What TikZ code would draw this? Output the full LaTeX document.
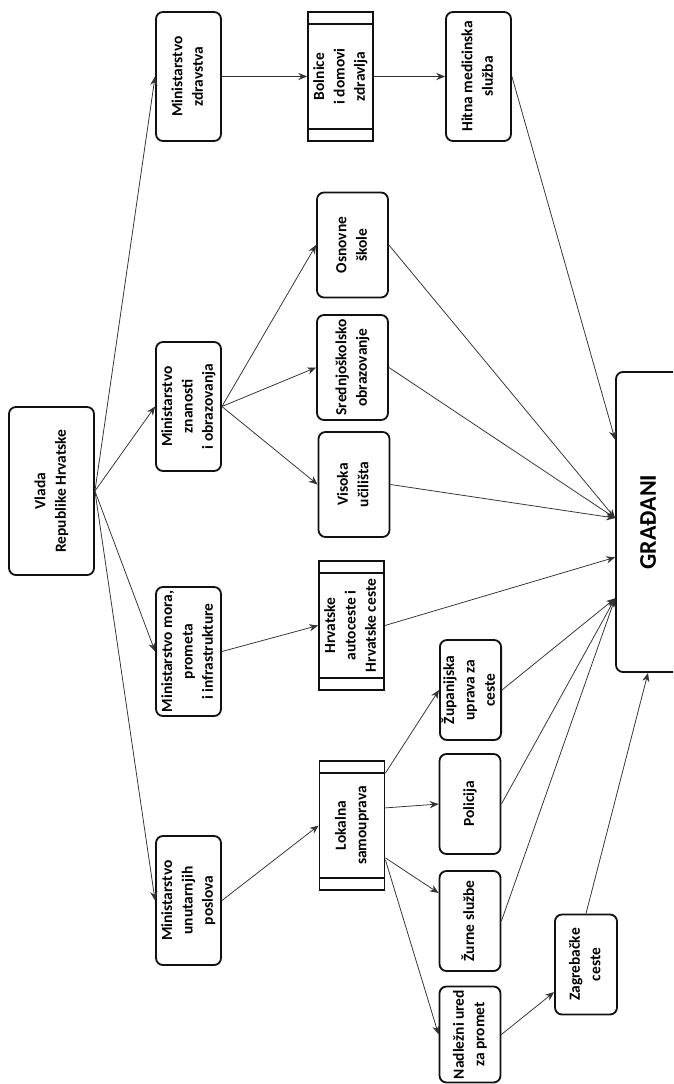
\documentclass[tikz,border=0pt]{standalone}
\usepackage{fontspec}
\setmainfont{Carlito}
\usepackage{graphicx}
\usetikzlibrary{arrows.meta,calc}
\definecolor{ink}{HTML}{111111}
\definecolor{wire}{HTML}{333333}
\newcommand{\rt}[1]{\rotatebox{90}{\begin{tabular}{@{}c@{}}#1\end{tabular}}}

\begin{document}
\begin{tikzpicture}[x=0.025cm,y=-0.025cm,font=\bfseries\fontsize{11}{14.5}\selectfont,
  box/.style={draw=ink,line width=1.3pt,rounded corners=5pt,inner sep=0pt,minimum width=1.625cm,minimum height=3.225cm},
  unit/.style={box,minimum width=1.775cm,minimum height=2.625cm},
  small/.style={box,minimum width=1.525cm,minimum height=2.5cm},
  proc/.style={box,sharp corners,path picture={
    \draw[ink,line width=1.3pt]
      ([yshift=-0.31cm]path picture bounding box.north west) -- ([yshift=-0.31cm]path picture bounding box.north east)
      ([yshift=0.31cm]path picture bounding box.south west) -- ([yshift=0.31cm]path picture bounding box.south east);}},
  arr/.style={-{Stealth[length=2.2mm,width=1.8mm]},line width=0.55pt,draw=wire}]
  \useasboundingbox (0,0) rectangle (673,1084);
  \clip (0,0) rectangle (673,1084);
  % government and ministries
  \node[box,minimum width=2.125cm,minimum height=4.2cm] (vlada) at (51.5,491) {\rt{Vlada\\Republike Hrvatske}};
  \node[box] (mzd) at (188.5,76.5) {\rt{Ministarstvo\\zdravstva}};
  \node[box] (mzo) at (188.5,406.5) {\rt{Ministarstvo\\znanosti\\i obrazovanja}};
  \node[box] (mmo) at (188.5,651.5) {\rt{Ministarstvo mora,\\prometa\\i infrastrukture}};
  \node[box] (mun) at (188.5,900.5) {\rt{Ministarstvo\\unutarnjih\\poslova}};
  % institutions
  \node[proc] (bol) at (340.5,76.5) {\rt{Bolnice\\i domovi\\zdravlja}};
  \node[box] (hit) at (478.5,76.5) {\rt{Hitna medicinska\\služba}};
  \node[unit] (os) at (352.5,245) {\rt{Osnovne\\škole}};
  \node[unit] (sr) at (352.5,367.5) {\rt{Srednjoškolsko\\obrazovanje}};
  \node[unit] (vis) at (354,484.5) {\rt{Visoka\\učilišta}};
  \node[proc] (hac) at (351.5,625.5) {\rt{Hrvatske\\autoceste i\\Hrvatske ceste}};
  \node[proc] (lok) at (352,825.5) {\rt{Lokalna\\samouprava}};
  \node[small] (zup) at (470.5,690) {\rt{Županijska\\uprava za\\ceste}};
  \node[small] (pol) at (470,804) {\rt{Policija}};
  \node[small] (zur) at (470,921) {\rt{Žurne službe}};
  \node[small,minimum height=2.4cm] (nad) at (470,1034.5) {\rt{Nadležni ured\\za promet}};
  \node[small,minimum width=1.55cm] (zag) at (586,964.5) {\rt{Zagrebačke\\ceste}};
  \node[box,minimum width=1.6cm,minimum height=7.5cm,font=\bfseries\fontsize{17}{20}\selectfont] (gra) at (648,522) {\rotatebox{90}{GRAĐANI}};
  % entry points on the citizens box
  \coordinate (g1) at ($(gra.north west)!0.227!(gra.south west)$);
  \coordinate (g2) at ($(gra.north west)!0.487!(gra.south west)$);
  \coordinate (g3) at ($(gra.north west)!0.617!(gra.south west)$);
  \coordinate (g4) at ($(gra.north west)!0.753!(gra.south west)$);
  \foreach \x/\y in {vlada.east/mzd.west,vlada.east/mzo.west,vlada.east/mmo.west,vlada.east/mun.west,
    mzd.east/bol.west,bol.east/hit.west,mzo.east/os.west,mzo.east/sr.west,mzo.east/vis.west,
    mmo.east/hac.west,mun.east/lok.west,hit.east/g1,os.east/g2,sr.east/g2,vis.east/g2,hac.east/g3,
    zup.east/g4,pol.east/g4,zur.east/g4,zag.north/gra.south}
    \draw[arr] (\x) -- (\y);
  \draw[arr] ([yshift=1.31cm]lok.east) -- (zup.west);
  \draw[arr] ([yshift=0.44cm]lok.east) -- (pol.west);
  \draw[arr] ([yshift=-0.81cm]lok.east) -- ([yshift=0.7cm]zur.west);
  \draw[arr] ([yshift=-0.86cm]lok.east) -- (nad.west);
  \draw[arr] (nad.east) -- ([yshift=-0.69cm]zag.west);
\end{tikzpicture}
\end{document}
